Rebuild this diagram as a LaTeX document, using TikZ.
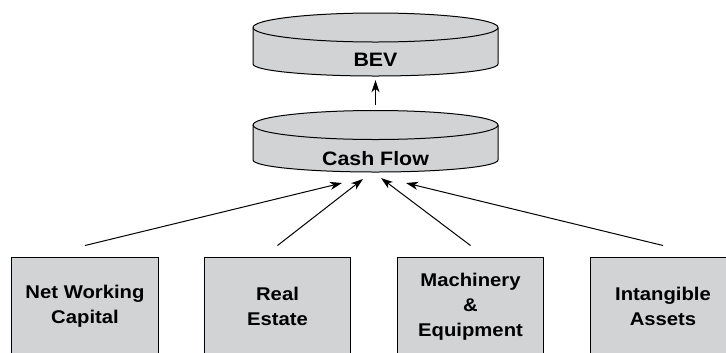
\documentclass[tikz,border=0pt]{standalone}
\usepackage{fontspec}
\newfontfamily\hv[FakeStretch=1.1]{Liberation Sans}
\usetikzlibrary{arrows.meta}
\definecolor{boxgray}{RGB}{210,211,213}
\begin{document}
\begin{tikzpicture}[x=1bp,y=1bp,
  cylpath/.style={draw=black,line width=1bp,fill=boxgray},
  cyltext/.style={font=\hv\bfseries\fontsize{19.5}{25}\selectfont,inner sep=0pt},
  bbox/.style={draw=black,line width=1bp,fill=boxgray,minimum width=146bp,minimum height=99bp,
    align=center,inner sep=0pt,font=\hv\bfseries\fontsize{18.5}{25}\selectfont},
  arr/.style={line width=1bp,-{Stealth[length=12bp,width=8bp,inset=3.5bp]}},
  hole/.style={inner sep=0pt,minimum width=245bp,minimum height=63bp}]
\useasboundingbox (0,0) rectangle (726,-352);
\clip (0,0) rectangle (726,-352);
% BEV cylinder
\draw[cylpath] (253,-27.5) -- (253,-64) arc[start angle=180,end angle=360,x radius=122.5,y radius=12]
  -- (498,-27.5) arc[start angle=0,end angle=180,x radius=122.5,y radius=14.5] -- cycle;
\draw[line width=1bp] (253,-27.5) arc[start angle=180,end angle=360,x radius=122.5,y radius=14.5];
\node[hole] (bevcyl) at (375.5,-44.5) {};
\node[cyltext] (bev) at (375.5,-60) {BEV};
% Cash Flow cylinder
\draw[cylpath] (253,-125) -- (253,-160) arc[start angle=180,end angle=360,x radius=122.5,y radius=12]
  -- (498,-125) arc[start angle=0,end angle=180,x radius=122.5,y radius=14.5] -- cycle;
\draw[line width=1bp] (253,-125) arc[start angle=180,end angle=360,x radius=122.5,y radius=14.5];
\node[hole,minimum height=62bp] (cfcyl) at (375.5,-141) {};
\node[cyltext] (cf) at (375.5,-159) {Cash Flow};
% boxes
\node[bbox] (b1) at (85,-306.5) {Net Working\\Capital};
\node[bbox] (b2) at (277.5,-306.5) {Real\\Estate};
\node[bbox] (b3) at (470.5,-306.5) {Machinery\\\&\\Equipment};
\node[bbox] (b4) at (663,-306.5) {Intangible\\Assets};
% arrow targets
\coordinate (t1) at (342,-183);
\coordinate (t2) at (363,-179);
\coordinate (t3) at (381,-178);
\coordinate (t4) at (406,-183);
\draw[arr,shorten <=5bp,shorten >=4bp] (cfcyl.north) -- (bevcyl.south);
\draw[arr] ([yshift=11bp]b1.north) -- (t1);
\draw[arr] ([yshift=11bp]b2.north) -- (t2);
\draw[arr] ([yshift=11bp]b3.north) -- (t3);
\draw[arr] ([yshift=11bp]b4.north) -- (t4);
\end{tikzpicture}
\end{document}
